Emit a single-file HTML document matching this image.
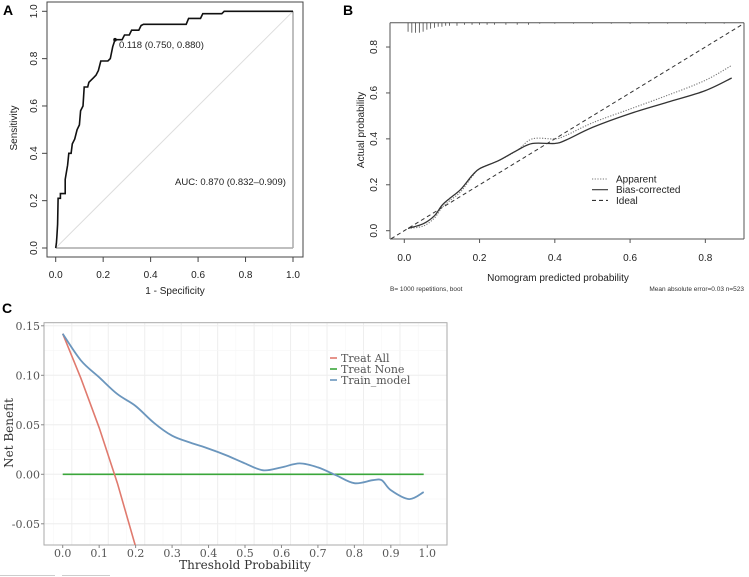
<!DOCTYPE html>
<html><head><meta charset="utf-8"><style>
body{margin:0;background:#fff;}
svg{display:block;}
.s{font-family:"Liberation Sans",sans-serif;}
.r{font-family:"DejaVu Serif","Liberation Serif",serif;}
</style></head><body>
<svg id="svg" width="749" height="577" viewBox="0 0 749 577" xmlns="http://www.w3.org/2000/svg">
<rect width="749" height="577" fill="#fff"/>
<g id="A"></g>
<g id="B"></g>
<g id="C"></g>
<line x1="0" y1="575.5" x2="55" y2="575.5" stroke="#ccc"/><line x1="62" y1="575.5" x2="110" y2="575.5" stroke="#ccc"/>
</svg>
<script>
// ---- Panel A data
const rocFpr=[0,0.003,0.005,0.008,0.01,0.02,0.02,0.04,0.04,0.045,0.05,0.055,0.065,0.07,0.08,0.09,0.1,0.105,0.115,0.12,0.135,0.14,0.15,0.16,0.17,0.18,0.19,0.22,0.23,0.24,0.25,0.28,0.29,0.31,0.32,0.35,0.36,0.37,0.55,0.56,0.61,0.62,0.70,0.71,1];
const rocTpr=[0,0.02,0.05,0.1,0.21,0.21,0.23,0.23,0.29,0.32,0.35,0.40,0.40,0.44,0.46,0.50,0.52,0.58,0.60,0.68,0.68,0.70,0.71,0.72,0.73,0.75,0.79,0.79,0.80,0.85,0.88,0.88,0.90,0.90,0.92,0.92,0.94,0.945,0.945,0.97,0.97,0.99,0.99,1.0,1.0];
const rocTicks=["0.0","0.2","0.4","0.6","0.8","1.0"];
// ---- Panel B data
const calX=[0.01,0.05,0.08,0.1,0.12,0.15,0.18,0.2,0.25,0.3,0.34,0.4,0.43,0.5,0.6,0.7,0.8,0.87];
const apparentY=[0.01,0.02,0.055,0.10,0.13,0.17,0.235,0.27,0.305,0.35,0.40,0.40,0.415,0.47,0.53,0.59,0.655,0.72];
const biasY=[0.01,0.03,0.065,0.11,0.14,0.18,0.24,0.27,0.305,0.35,0.38,0.38,0.395,0.45,0.51,0.56,0.61,0.665];
const rugX=[0.01,0.02,0.03,0.04,0.05,0.06,0.07,0.08,0.09,0.1,0.11,0.12,0.14,0.16,0.18,0.2,0.22,0.24,0.27,0.3,0.33,0.36,0.4,0.45,0.5,0.55,0.6,0.65,0.7,0.75,0.8,0.85];
const rugH=[9,10,10,10,9,7,6,5,4,4,3,3,3,2,2,2,2,2,2,2,2,1,1,1,1,1,1,1,1,1,1,1];
const calTicksX=["0.0","0.2","0.4","0.6","0.8"];
const calTicksY=["0.0","0.2","0.4","0.6","0.8"];
// ---- Panel C data
const dcaT=[0,0.05,0.1,0.15,0.2,0.25,0.3,0.35,0.4,0.45,0.5,0.55,0.6,0.65,0.7,0.75,0.8,0.85,0.875,0.9,0.95,0.99];
const modelNB=[0.142,0.115,0.098,0.081,0.069,0.052,0.039,0.032,0.026,0.019,0.011,0.004,0.007,0.011,0.007,-0.001,-0.009,-0.006,-0.006,-0.016,-0.025,-0.018];
const allT=[0,0.05,0.1,0.15,0.2];
const allNB=[0.142,0.097,0.047,-0.009,-0.073];
const noneT=[0,0.99];
const noneNB=[0,0];
const dcaTicksX=["0.0","0.1","0.2","0.3","0.4","0.5","0.6","0.7","0.8","0.9","1.0"];
const dcaTicksY=["-0.05","0.00","0.05","0.10","0.15"];

const NS="http://www.w3.org/2000/svg";
function mk(p,tag,at,txt){const e=document.createElementNS(NS,tag);for(const k in at)e.setAttribute(k,at[k]);if(txt!==undefined)e.textContent=txt;p.appendChild(e);return e;}
function pts(xs,ys,fx,fy){return xs.map((x,i)=>fx(x).toFixed(1)+","+fy(ys[i]).toFixed(1)).join(" ");}
function smooth(xs,ys,fx,fy){const P=xs.map((x,i)=>[fx(x),fy(ys[i])]);let d="M"+P[0][0].toFixed(1)+","+P[0][1].toFixed(1);
 for(let i=0;i<P.length-1;i++){const p0=P[i-1]||P[i],p1=P[i],p2=P[i+1],p3=P[i+2]||p2;
  const c1=[p1[0]+(p2[0]-p0[0])/6,p1[1]+(p2[1]-p0[1])/6],c2=[p2[0]-(p3[0]-p1[0])/6,p2[1]-(p3[1]-p1[1])/6];
  d+=` C${c1[0].toFixed(1)},${c1[1].toFixed(1)} ${c2[0].toFixed(1)},${c2[1].toFixed(1)} ${p2[0].toFixed(1)},${p2[1].toFixed(1)}`;}
 return d;}

// Panel A
(function(){
const g=document.getElementById('A');
const fx=v=>55.7+v*237.3, fy=v=>248-v*236.7;
let e;
e=mk(g,'text',{x:3,y:15,'font-size':14,'font-weight':'bold',class:'s'},'A');

e=mk(g,'rect',{x:47,y:2,width:256,height:255,fill:'none',stroke:'#444','stroke-width':1});

e=mk(g,'line',{x1:fx(0),y1:fy(0),x2:fx(1),y2:fy(1),stroke:'#ddd','stroke-width':1});

e=mk(g,'line',{x1:fx(0),y1:fy(0),x2:fx(1),y2:fy(0),stroke:'#aaa','stroke-width':1.5});
e=mk(g,'line',{x1:fx(1),y1:fy(0),x2:fx(1),y2:fy(1),stroke:'#aaa','stroke-width':1.5});
rocTicks.forEach((t,i)=>{const v=i*0.2;
 let a=mk(g,'line',{x1:fx(v),y1:257,x2:fx(v),y2:262,stroke:'#444'});
 a=mk(g,'text',{x:fx(v),y:278,'font-size':10,'text-anchor':'middle',class:'s',fill:'#222'},t);
 
 a=mk(g,'line',{x1:42,y1:fy(v),x2:47,y2:fy(v),stroke:'#444'});
 a=mk(g,'text',{x:0,y:0,'font-size':10,'text-anchor':'middle',class:'s',fill:'#222',transform:`translate(37,${fy(v)}) rotate(-90)`},t);
 
});
e=mk(g,'text',{x:175,y:294,'font-size':10,'text-anchor':'middle',class:'s',fill:'#222'},'1 - Specificity');

e=mk(g,'text',{x:0,y:0,'font-size':10,'text-anchor':'middle',class:'s',fill:'#222',transform:'translate(17,128) rotate(-90)'},'Sensitivity');

e=mk(g,'polyline',{points:pts(rocFpr,rocTpr,fx,fy),fill:'none',stroke:'#111','stroke-width':1.6});

e=mk(g,'circle',{cx:fx(0.25),cy:fy(0.88),r:1.8,fill:'#111'});

e=mk(g,'text',{x:119,y:48,'font-size':9.5,class:'s',fill:'#222'},'0.118 (0.750, 0.880)');

e=mk(g,'text',{x:175,y:185,'font-size':9.5,class:'s',fill:'#222'},'AUC: 0.870 (0.832–0.909)');

})();

// Panel B
(function(){
const g=document.getElementById('B');
const fx=v=>404.3+v*376.3, fy=v=>230.7-v*229.6;
let e;
e=mk(g,'text',{x:343,y:15,'font-size':14,'font-weight':'bold',class:'s'},'B');

mk(g,'line',{x1:390,y1:22.7,x2:744,y2:22.7,stroke:'#555','stroke-width':1});
mk(g,'line',{x1:390,y1:239,x2:744,y2:239,stroke:'#555','stroke-width':1});
mk(g,'line',{x1:744,y1:22.7,x2:744,y2:239,stroke:'#555','stroke-width':1});
mk(g,'line',{x1:390,y1:22.7,x2:390,y2:239,stroke:'#555','stroke-width':1});
calTicksX.forEach((t,i)=>{const v=i*0.2;
 mk(g,'line',{x1:fx(v),y1:239,x2:fx(v),y2:243,stroke:'#555'});
 let a=mk(g,'text',{x:fx(v),y:261,'font-size':10,'text-anchor':'middle',class:'s',fill:'#222'},t);
 
});
calTicksY.forEach((t,i)=>{const v=i*0.2;
 mk(g,'line',{x1:386,y1:fy(v),x2:390,y2:fy(v),stroke:'#555'});
 let a=mk(g,'text',{x:0,y:0,'font-size':10,'text-anchor':'middle',class:'s',fill:'#222',transform:`translate(377,${fy(v)}) rotate(-90)`},t);
 
});
e=mk(g,'text',{x:558,y:281,'font-size':10,'text-anchor':'middle',class:'s',fill:'#222'},'Nomogram predicted probability');

e=mk(g,'text',{x:0,y:0,'font-size':10,'text-anchor':'middle',class:'s',fill:'#222',transform:'translate(364,130) rotate(-90)'},'Actual probability');

e=mk(g,'text',{x:390,y:291,'font-size':6.5,class:'s',fill:'#333'},'B= 1000 repetitions, boot');

e=mk(g,'text',{x:744,y:291,'font-size':6.5,'text-anchor':'end',class:'s',fill:'#333'},'Mean absolute error=0.03 n=523');

e=mk(g,'line',{x1:fx(-0.035),y1:fy(-0.035),x2:744,y2:fy((744-404.3)/376.3),stroke:'#333','stroke-width':1,'stroke-dasharray':'4,3'});

e=mk(g,'path',{d:smooth(calX,apparentY,fx,fy),fill:'none',stroke:'#777','stroke-width':1.1,'stroke-dasharray':'1.2,1.5'});

e=mk(g,'path',{d:smooth(calX,biasY,fx,fy),fill:'none',stroke:'#333','stroke-width':1.3});

rugX.forEach((x,i)=>{let a=mk(g,'line',{x1:fx(x),y1:22.7,x2:fx(x),y2:22.7+rugH[i],stroke:'#444','stroke-width':0.8});
 });
const leg=[["Apparent","#777","1.2,1.5"],["Bias-corrected","#333",""],["Ideal","#333","4,3"]];
leg.forEach((l,i)=>{const y=179+i*10.7;
 mk(g,'line',{x1:592,y1:y,x2:608,y2:y,stroke:l[1],'stroke-width':1.1,'stroke-dasharray':l[2]});
 let a=mk(g,'text',{x:616,y:y+3.5,'font-size':10,class:'s',fill:'#222'},l[0]);
 });
})();

// Panel C
(function(){
const g=document.getElementById('C');
const fx=v=>62.7+v*364.6, fy=v=>474.3-v*990;
let e;
e=mk(g,'text',{x:2,y:313,'font-size':14,'font-weight':'bold',class:'s'},'C');

e=mk(g,'rect',{x:44,y:322.7,width:403,height:222.3,fill:'#fff'});
for(let i=0;i<=20;i++){const v=i*0.05-0.025;const x=fx(v);if(x>44&&x<447)mk(g,'line',{x1:x,y1:322.7,x2:x,y2:545,stroke:i%2?'#eee':'#f6f6f6','stroke-width':i%2?1:0.6});}
for(let i=-3;i<=6;i++){const v=i*0.025;const y=fy(v);if(y>322.7&&y<545)mk(g,'line',{x1:44,y1:y,x2:447,y2:y,stroke:(i%2===0)?'#eee':'#f6f6f6','stroke-width':(i%2===0)?1:0.6});}
mk(g,'rect',{x:44,y:322.7,width:403,height:222.3,fill:'none',stroke:'#aaa','stroke-width':1});
dcaTicksX.forEach((t,i)=>{const v=i*0.1;
 mk(g,'line',{x1:fx(v),y1:545,x2:fx(v),y2:548,stroke:'#888'});
 let a=mk(g,'text',{x:fx(v),y:557,'font-size':11,'text-anchor':'middle',class:'r',fill:'#555'},t);
 });
dcaTicksY.forEach((t,i)=>{const v=-0.05+i*0.05;
 mk(g,'line',{x1:41,y1:fy(v),x2:44,y2:fy(v),stroke:'#888'});
 let a=mk(g,'text',{x:40,y:fy(v)+4,'font-size':11,'text-anchor':'end',class:'r',fill:'#555'},t);
 });
e=mk(g,'text',{x:245,y:569,'font-size':12,'text-anchor':'middle',class:'r',fill:'#333'},'Threshold Probability');

e=mk(g,'text',{x:0,y:0,'font-size':12,'text-anchor':'middle',class:'r',fill:'#333',transform:'translate(13,433) rotate(-90)'},'Net Benefit');

const cp=mk(g,'clipPath',{id:'cc'});mk(cp,'rect',{x:44,y:322.7,width:403,height:222.3});
e=mk(g,'polyline',{points:pts(noneT,noneNB,fx,fy),fill:'none',stroke:'#3aa63a','stroke-width':1.6});

e=mk(g,'polyline',{points:pts(allT,allNB,fx,fy),fill:'none',stroke:'#e07a6e','stroke-width':1.6,'clip-path':'url(#cc)'});

e=mk(g,'path',{d:smooth(dcaT,modelNB,fx,fy),fill:'none',stroke:'#6b96bd','stroke-width':1.8,'stroke-linejoin':'round'});

const leg=[["Treat All","#e07a6e"],["Treat None","#3aa63a"],["Train_model","#6b96bd"]];
leg.forEach((l,i)=>{const y=358+i*11;
 mk(g,'line',{x1:330,y1:y,x2:337,y2:y,stroke:l[1],'stroke-width':1.6});
 let a=mk(g,'text',{x:341,y:y+4,'font-size':11,class:'r',fill:'#555'},l[0]);
 });
})();
</script>
</body></html>
